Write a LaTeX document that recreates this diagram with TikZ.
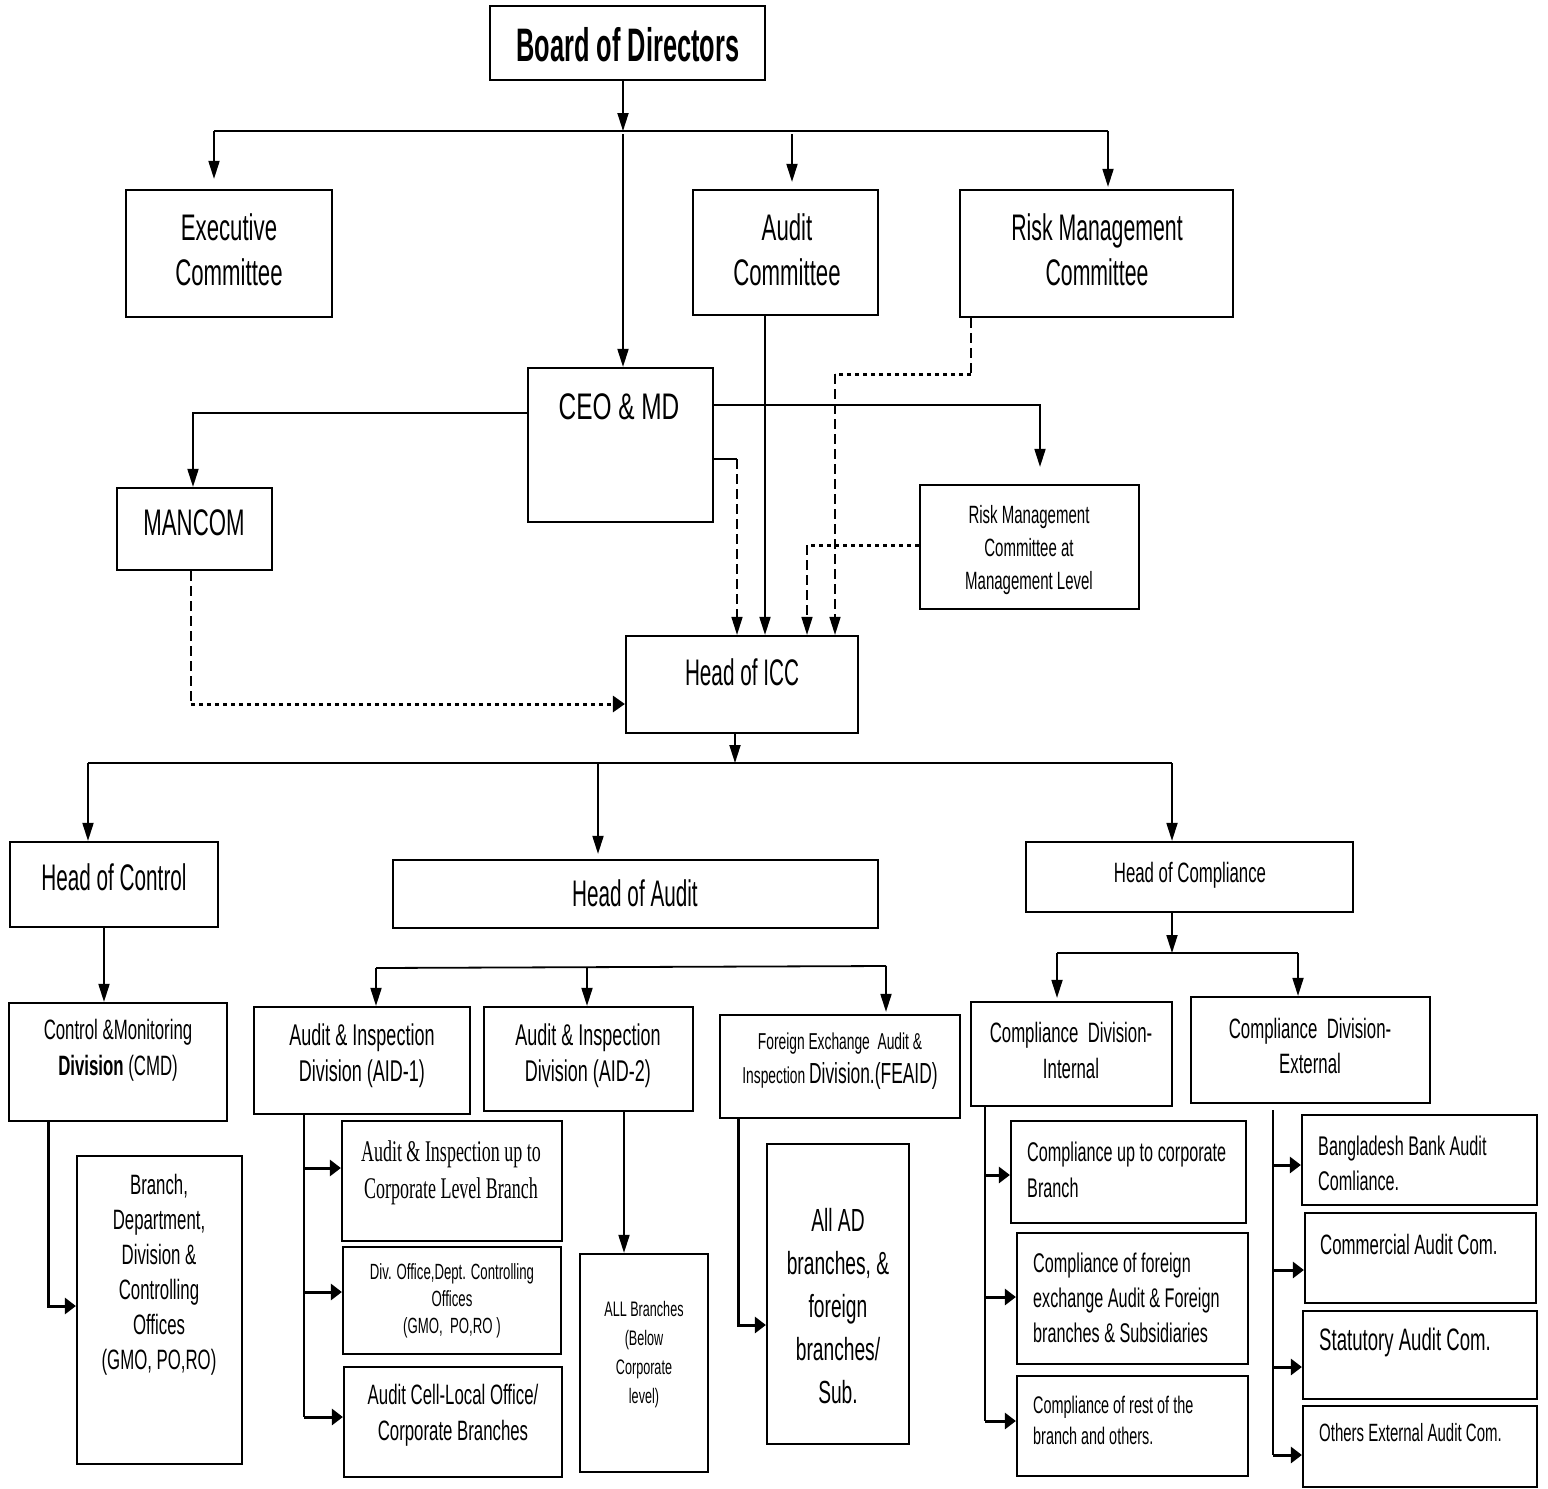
\documentclass[tikz,border=0pt]{standalone}
\usepackage{fontspec}
\setmainfont{Liberation Sans}[FakeStretch=0.6]
\newfontfamily\boardfont{Liberation Sans}[FakeStretch=0.54]
\newfontfamily\narA{Liberation Sans}[FakeStretch=0.56]
\newfontfamily\narB{Liberation Sans}[FakeStretch=0.575]
\newfontfamily\wideA{Liberation Sans}[FakeStretch=0.66]
\newfontfamily\serifnar{Liberation Serif}[FakeStretch=0.6]
\usetikzlibrary{arrows.meta,fit}
\newcommand{\fsz}[2]{\fontsize{#1}{#2}\selectfont}
\tikzset{
  box/.style={draw, line width=2.2pt, inner sep=0pt},
  txt/.style={inner sep=0pt, align=center},
  ltxt/.style={inner sep=0pt, align=left, anchor=west},
  conn/.style={line width=1.8pt},
  tipv/.style={-{Triangle[length=18pt,width=11pt]}},
  arr/.style={conn, tipv},
  dashline/.style={line width=1.6pt, dash pattern=on 10pt off 5pt},
  dotline/.style={line width=3pt, dash pattern=on 4pt off 4pt},
  sidearr/.style={line width=3pt, -{Triangle[length=11pt,width=16pt]}},
  vline/.style={line width=2.5pt}
}
\begin{document}
\begin{tikzpicture}[x=1pt,y=-1pt]
\useasboundingbox (0,0) rectangle (1548,1489);
% ---------- boxes ----------
\node[box, fit={(490,6)(765,80)}] (bod) {};
\node[box, fit={(126,190)(332,317)}] (exec) {};
\node[box, fit={(693,190)(878,315)}] (audc) {};
\node[box, fit={(960,190)(1233,317)}] (rmc) {};
\node[box, fit={(528,368)(713,522)}] (ceo) {};
\node[box, fit={(117,488)(272,570)}] (mancom) {};
\node[box, fit={(920,485)(1139,609)}] (rmml) {};
\node[box, fit={(626,636)(858,733)}] (icc) {};
\node[box, fit={(10,842)(218,927)}] (hctl) {};
\node[box, fit={(393,860)(878,928)}] (haud) {};
\node[box, fit={(1026,842)(1353,912)}] (hcomp) {};
\node[box, fit={(9,1003)(227,1121)}] (cmd) {};
\node[box, fit={(254,1007)(470,1114)}] (aid1) {};
\node[box, fit={(484,1007)(693,1111)}] (aid2) {};
\node[box, fit={(720,1015)(960,1118)}] (feaid) {};
\node[box, fit={(971,1002)(1172,1106)}] (cdi) {};
\node[box, fit={(1191,997)(1430,1103)}] (cde) {};
\node[box, fit={(77,1156)(242,1464)}] (bdo) {};
\node[box, fit={(342,1121)(562,1241)}] (aicl) {};
\node[box, fit={(343,1247)(561,1354)}] (divo) {};
\node[box, fit={(344,1367)(562,1477)}] (acell) {};
\node[box, fit={(580,1254)(708,1472)}] (allb) {};
\node[box, fit={(767,1144)(909,1444)}] (allad) {};
\node[box, fit={(1011,1121)(1246,1223)}] (cuc) {};
\node[box, fit={(1017,1233)(1248,1364)}] (cof) {};
\node[box, fit={(1017,1376)(1248,1476)}] (cor) {};
\node[box, fit={(1302,1115)(1537,1205)}] (bba) {};
\node[box, fit={(1305,1213)(1536,1303)}] (cac) {};
\node[box, fit={(1303,1311)(1537,1399)}] (sac) {};
\node[box, fit={(1303,1406)(1537,1487)}] (oea) {};
% ---------- texts ----------
\node[txt, font=\boardfont\bfseries\fsz{47}{56}] (bod-t) at (628,45) {Board of Directors};
\node[txt, font=\fsz{37}{45}] (exec-t) at (229,250) {Executive\\Committee};
\node[txt, font=\fsz{37}{45}] (audc-t) at (787,250) {Audit\\Committee};
\node[txt, font=\narB\fsz{37}{45}] (rmc-t) at (1097,250) {Risk Management\\Committee};
\node[txt, font=\wideA\fsz{37}{45}] (ceo-t) at (619,407) {CEO \& MD};
\node[txt, font=\fsz{37}{45}] (mancom-t) at (194,523) {MANCOM};
\node[txt, font=\fsz{25}{33}] (rmml-t) at (1029,550) {Risk Management\\Committee at\\Management Level};
\node[txt, font=\narA\fsz{37}{45}] (icc-t) at (742,672) {Head of ICC};
\node[txt, font=\narA\fsz{37}{45}] (hctl-t) at (114,877) {Head of Control};
\node[txt, font=\narA\fsz{37}{45}] (haud-t) at (635,893) {Head of Audit};
\node[txt, font=\fsz{28}{34}] (hcomp-t) at (1190,875) {Head of Compliance};
\node[txt, font=\fsz{28}{36}] (cmd-t) at (118,1050) {Control \&Monitoring\\\textbf{Division} (CMD)};
\node[txt, font=\fsz{30}{36}] (aid1-t) at (362,1056) {Audit \& Inspection\\Division (AID-1)};
\node[txt, font=\fsz{30}{36}] (aid2-t) at (588,1056) {Audit \& Inspection\\Division (AID-2)};
\node[txt, font=\fsz{23}{34}] (feaid-t) at (840,1061) {Foreign Exchange\ \ Audit \&\\Inspection {\fsz{29}{34}Division.(FEAID)}};
\node[txt, font=\fsz{28}{36}] (cdi-t) at (1071,1050) {Compliance\ \ Division-\\Internal};
\node[txt, font=\fsz{28}{35}] (cde-t) at (1310,1046) {Compliance\ \ Division-\\External};
\node[txt, font=\fsz{28}{35}] (bdo-t) at (159,1275) {Branch,\\Department,\\Division \&\\Controlling\\Offices\\(GMO, PO,RO)};
\node[txt, font=\serifnar\fsz{30}{37}] (aicl-t) at (451,1173) {Audit \& Inspection up to\\Corporate Level Branch};
\node[txt, font=\fsz{22}{27}] (divo-t) at (452,1301) {Div. Office,Dept. Controlling\\Offices\\(GMO,\ \ PO,RO )};
\node[txt, font=\fsz{28}{36}] (acell-t) at (453,1415) {Audit Cell-Local Office/\\Corporate Branches};
\node[txt, font=\fsz{21}{29}] (allb-t) at (644,1355) {ALL Branches\\(Below\\Corporate\\level)};
\node[txt, font=\fsz{32}{43}] (allad-t) at (838,1306) {All AD\\branches, \&\\foreign\\branches/\\Sub.};
\node[ltxt, font=\fsz{27}{36}] (cuc-t) at (1027,1170) {Compliance up to corporate\\Branch};
\node[ltxt, font=\fsz{27}{35}] (cof-t) at (1033,1298) {Compliance of foreign\\exchange Audit \& Foreign\\branches \& Subsidiaries};
\node[ltxt, font=\fsz{24}{31}] (cor-t) at (1033,1420) {Compliance of rest of the\\branch and others.};
\node[ltxt, font=\fsz{27}{35}] (bba-t) at (1318,1163) {Bangladesh Bank Audit\\Comliance.};
\node[ltxt, font=\fsz{28}{34}] (cac-t) at (1320,1244) {Commercial Audit Com.};
\node[ltxt, font=\fsz{31}{36}] (sac-t) at (1319,1342) {Statutory Audit Com.};
\node[ltxt, font=\fsz{25}{30}] (oea-t) at (1319,1433) {Others External Audit Com.};
% ---------- top connectors ----------
\coordinate (b1) at (623,131);
\coordinate (busL) at (214,131);
\coordinate (busR) at (1108,131);
\coordinate (busA) at (792,131);
\draw[arr] (b1 |- bod.south) -- (b1);
\draw[conn] (busL) -- (busR);
\draw[arr, shorten >=10pt] (busL) -- (busL |- exec.north);
\draw[arr, shorten >=7pt] ([yshift=-3pt]busA) -- (busA |- audc.north);
\draw[arr, shorten >=2pt] (busR) -- (busR |- rmc.north);
\draw[arr] ([yshift=-3pt]b1) -- (b1 |- ceo.north);
% Audit committee -> ICC
\coordinate (xa) at (765,0);
\draw[arr] (xa |- audc.south) -- (xa |- icc.north);
% Risk management committee -> ICC
\coordinate (r1) at (971,374);
\coordinate (r2) at (835,374);
\draw[dashline] (r1 |- rmc.south) -- (r1);
\draw[dotline] (r1) -- (r2);
\draw[dashline, tipv] (r2) -- (r2 |- icc.north);
% CEO -> MANCOM
\coordinate (m1) at (193,413);
\draw[arr] (m1 -| ceo.west) -- (m1) -- (m1 |- mancom.north);
% CEO -> RMML
\coordinate (k1) at (1040,405);
\draw[arr, shorten >=17pt] (k1 -| ceo.east) -- (k1) -- (k1 |- rmml.north);
% CEO -> ICC
\coordinate (c1) at (737,459);
\draw[conn] (c1 -| ceo.east) -- (c1);
\draw[dashline, tipv] (c1) -- (c1 |- icc.north);
% RMML -> ICC
\coordinate (q1) at (807,545);
\draw[dotline] (q1 -| rmml.west) -- (q1);
\draw[dashline, tipv] (q1) -- (q1 |- icc.north);
% MANCOM -> ICC
\coordinate (mc) at (191,704);
\draw[dashline] (mc |- mancom.south) -- (mc);
\draw[dotline, -{Triangle[length=12pt,width=16pt]}] (mc) -- (mc -| icc.west);
% ICC -> heads
\coordinate (i1) at (735,763);
\coordinate (bus2L) at (88,763);
\coordinate (bus2M) at (598,763);
\coordinate (bus2R) at (1172,763);
\draw[arr] (i1 |- icc.south) -- (i1);
\draw[conn] (bus2L) -- (bus2R);
\draw[arr] (bus2L) -- (bus2L |- hctl.north);
\draw[arr, shorten >=5pt] (bus2M) -- (bus2M |- haud.north);
\draw[arr] (bus2R) -- (bus2R |- hcomp.north);
% Head of Control -> CMD
\coordinate (h1) at (104,0);
\draw[arr] (h1 |- hctl.south) -- (h1 |- cmd.north);
% audit bus
\coordinate (a1) at (376,968);
\coordinate (a2) at (587,967);
\coordinate (a3) at (886,966);
\draw[conn] (a1) -- (a3);
\draw[arr] (a1) -- (a1 |- aid1.north);
\draw[arr] (a2) -- (a2 |- aid2.north);
\draw[arr, shorten >=2pt] (a3) -- (a3 |- feaid.north);
% compliance bus
\coordinate (cp) at (1172,953);
\coordinate (cpL) at (1057,953);
\coordinate (cpR) at (1298,953);
\draw[arr] (cp |- hcomp.south) -- (cp);
\draw[conn] (cpL) -- (cpR);
\draw[arr, shorten >=3pt] (cpL) -- (cpL |- cdi.north);
\draw[arr] (cpR) -- (cpR |- cde.north);
% ---------- bottom connectors ----------
\coordinate (d1) at (48,1306);
\draw[sidearr] (d1 |- cmd.south) -- (d1) -- (d1 -| bdo.west);
\coordinate (e0) at (304,0);
\coordinate (e1) at (304,1168);
\coordinate (e2) at (304,1292);
\coordinate (e3) at (304,1417);
\draw[vline] (e0 |- aid1.south) -- (e3);
\draw[sidearr] (e1) -- (e1 -| aicl.west);
\draw[sidearr] (e2) -- (e2 -| divo.west);
\draw[sidearr] (e3) -- (e3 -| acell.west);
\coordinate (g0) at (624,0);
\draw[arr] (g0 |- aid2.south) -- (g0 |- allb.north);
\coordinate (f1) at (738,1325);
\draw[sidearr] (f1 |- feaid.south) -- (f1) -- (f1 -| allad.west);
\coordinate (n0) at (985,0);
\coordinate (n1) at (985,1175);
\coordinate (n2) at (985,1297);
\coordinate (n3) at (985,1421);
\draw[vline] (n0 |- cdi.south) -- (n3);
\draw[sidearr] (n1) -- (n1 -| cuc.west);
\draw[sidearr] (n2) -- (n2 -| cof.west);
\draw[sidearr] (n3) -- (n3 -| cor.west);
\coordinate (p0) at (1273,1110);
\coordinate (p1) at (1273,1165);
\coordinate (p2) at (1273,1270);
\coordinate (p3) at (1273,1367);
\coordinate (p4) at (1273,1455);
\draw[vline] (p0) -- (p4);
\draw[sidearr] (p1) -- (p1 -| bba.west);
\draw[sidearr] (p2) -- (p2 -| cac.west);
\draw[sidearr] (p3) -- (p3 -| sac.west);
\draw[sidearr] (p4) -- (p4 -| oea.west);
\end{tikzpicture}
\end{document}
